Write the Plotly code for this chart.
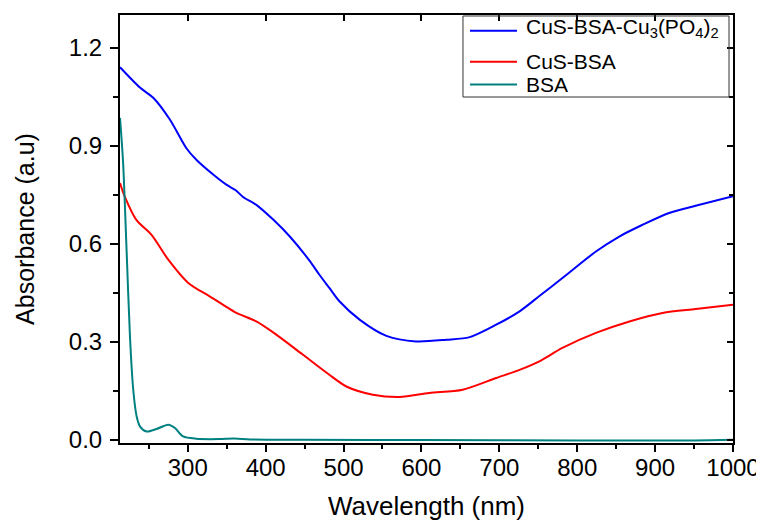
import plotly.graph_objects as go

# Wavelength (nm) and absorbance values
wl_cus_bsa_cupo = [213, 239, 256, 277, 298, 311, 333, 350, 362, 371, 388, 410, 431, 457,
                   469, 482, 495, 521, 555, 593, 632, 662, 696, 726, 751, 781, 824,
                   854, 884, 918, 952, 1000]
abs_cus_bsa_cupo = [1.14, 1.077, 1.046, 0.98, 0.893, 0.857, 0.811, 0.780, 0.763, 0.743, 0.719,
                    0.673, 0.622, 0.546, 0.505, 0.464, 0.423, 0.367, 0.318, 0.301, 0.306,
                    0.314, 0.352, 0.393, 0.439, 0.495, 0.576, 0.622, 0.658, 0.694,
                    0.716, 0.745]

wl_cus_bsa = [213, 219, 234, 253.5, 275, 300.6, 328, 345.5, 362.5, 388, 414, 448, 480,
              503.6, 537.7, 572, 610, 653, 696, 726, 751.5, 781, 824, 867, 909.5, 952, 1000]
abs_cus_bsa = [0.786, 0.745, 0.673, 0.627, 0.551, 0.48, 0.439, 0.413, 0.388, 0.362, 0.321,
               0.26, 0.202, 0.163, 0.138, 0.131, 0.143, 0.153, 0.189, 0.214,
               0.240, 0.281, 0.327, 0.362, 0.388, 0.40, 0.413]

wl_bsa = [213, 217, 221.6, 225.8, 230, 234.4, 238.6, 247, 260, 275, 283.5, 294, 311, 340,
          360, 380, 450, 600, 800, 950, 1000]
abs_bsa = [0.985, 0.847, 0.571, 0.316, 0.153, 0.071, 0.041, 0.025, 0.033, 0.046, 0.036,
           0.010, 0.003, 0.002, 0.004, 0.001, 0.0, -0.001, -0.002, -0.002, 0.0]

series_names = ["CuS-BSA-Cu<sub>3</sub>(PO<sub>4</sub>)<sub>2</sub>", "CuS-BSA", "BSA"]
series_colors = ["#0000FF", "#FF0000", "#008080"]

x_ticks = [300, 400, 500, 600, 700, 800, 900, 1000]
y_ticks = [0.0, 0.3, 0.6, 0.9, 1.2]
y_tick_text = ["0.0", "0.3", "0.6", "0.9", "1.2"]

FONT = "Liberation Sans, Arial, sans-serif"

fig = go.Figure()
for wl, ab, name, col in zip([wl_cus_bsa_cupo, wl_cus_bsa, wl_bsa],
                             [abs_cus_bsa_cupo, abs_cus_bsa, abs_bsa],
                             series_names, series_colors):
    fig.add_trace(go.Scatter(x=wl, y=ab, name=name, mode="lines", showlegend=False,
                             line=dict(color=col, width=2, shape="spline", smoothing=0.8)))

# invisible copy for mirrored inner ticks (top / right)
fig.add_trace(go.Scatter(x=wl_bsa, y=abs_bsa, xaxis="x2", yaxis="y2", mode="lines",
                         line=dict(width=0, color="rgba(0,0,0,0)"), showlegend=False,
                         hoverinfo="skip"))

# Legend (box, sample lines, labels) in paper coordinates
leg_x0, leg_x1, leg_y0, leg_y1 = 0.5595, 0.9935, 0.8084, 0.9977
leg_rows = [0.963, 0.891, 0.8376]
shapes = [dict(type="rect", xref="paper", yref="paper", x0=leg_x0, x1=leg_x1,
               y0=leg_y0, y1=leg_y1, line=dict(color="#333333", width=1),
               fillcolor="rgba(255,255,255,0)")]
annotations = []
for name, col, yy in zip(series_names, series_colors, leg_rows):
    shapes.append(dict(type="line", xref="paper", yref="paper", x0=0.571, x1=0.6476,
                       y0=yy, y1=yy, line=dict(color=col, width=2)))
    annotations.append(dict(text=name, xref="paper", yref="paper", x=0.659, y=yy,
                            xanchor="left", yanchor="middle", showarrow=False,
                            font=dict(size=21, family=FONT, color="black")))
annotations[0]["yshift"] = 3

fig.update_layout(
    width=756, height=513,
    margin=dict(l=112, r=31, t=7, b=78),
    paper_bgcolor="white", plot_bgcolor="white",
    font=dict(family=FONT, color="black"),
    showlegend=False,
    shapes=shapes, annotations=annotations,
    xaxis=dict(range=[213, 1000], tickvals=x_ticks, ticktext=[str(v) for v in x_ticks],
               ticks="outside", ticklen=7, tickwidth=1.5, tickcolor="black",
               minor=dict(dtick=50, tick0=0, ticks="outside", ticklen=4, tickwidth=1.5,
                          tickcolor="black"),
               showline=True, linecolor="black", linewidth=2, showgrid=False, zeroline=False,
               tickfont=dict(size=24, family=FONT), automargin=False, ticklabelstandoff=-5,
               ticklabeloverflow="allow",
               title=dict(text="Wavelength (nm)", font=dict(size=26, family=FONT), standoff=22)),
    yaxis=dict(range=[-0.01, 1.3], tickvals=y_ticks, ticktext=y_tick_text,
               ticks="outside", ticklen=8, tickwidth=1.5, tickcolor="black",
               minor=dict(dtick=0.15, tick0=0, ticks="outside", ticklen=5, tickwidth=1.5,
                          tickcolor="black"),
               showline=True, linecolor="black", linewidth=2, showgrid=False, zeroline=False,
               tickfont=dict(size=24, family=FONT), automargin=False, ticklabelstandoff=3,
               title=dict(text="Absorbance (a.u)", font=dict(size=25, family=FONT), standoff=27)),
    xaxis2=dict(overlaying="x", side="top", matches="x", anchor="y2",
                tickvals=x_ticks, ticks="inside", ticklen=6, tickwidth=1.5, tickcolor="black",
                showticklabels=False, showline=True, linecolor="black", linewidth=2,
                showgrid=False, zeroline=False),
    yaxis2=dict(overlaying="y", side="right", matches="y", anchor="x2",
                tickvals=y_ticks, ticks="inside", ticklen=6, tickwidth=1.5, tickcolor="black",
                minor=dict(dtick=0.15, tick0=0, ticks="inside", ticklen=4, tickwidth=1.5,
                           tickcolor="black"),
                showticklabels=False, showline=True, linecolor="black", linewidth=2,
                showgrid=False, zeroline=False),
)

fig.write_html("out.html")
